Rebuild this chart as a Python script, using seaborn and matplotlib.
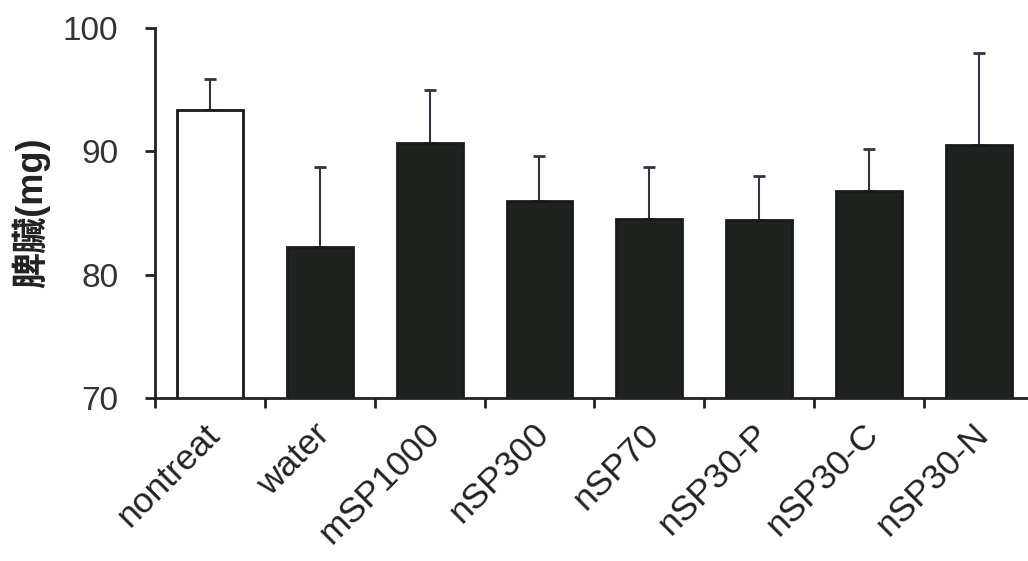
import matplotlib
matplotlib.use("Agg")
import matplotlib.pyplot as plt
import matplotlib.transforms as mtransforms
import seaborn as sns
import numpy as np
import pandas as pd

categories = ["nontreat", "water", "mSP1000", "nSP300", "nSP70", "nSP30-P", "nSP30-C", "nSP30-N"]
values = [93.35, 82.2, 90.65, 86.0, 84.5, 84.45, 86.8, 90.55]
err_up = [2.55, 6.5, 4.3, 3.65, 4.25, 3.55, 3.4, 7.45]
y_ticks = [70, 80, 90, 100]
ylabel = "脾臟(mg)"

sns.set_theme(style="ticks")
plt.rcParams['font.family'] = ['Liberation Sans', 'Noto Sans CJK TC', 'DejaVu Sans']

fig = plt.figure(figsize=(10.28, 5.61), dpi=100)
ax = fig.add_axes([0.151, 0.291, 0.848, 0.659])

df = pd.DataFrame({"cat": categories, "val": values})
colors = ["white"] + ["#1e2420"] * (len(categories) - 1)
sns.barplot(data=df, x="cat", y="val", hue="cat", palette=colors, legend=False,
            width=0.6, edgecolor="#1a1a1a", linewidth=2, ax=ax, errorbar=None)

x = np.arange(len(categories))
ax.errorbar(x, values, yerr=[np.zeros(len(values)), err_up], fmt="none",
            ecolor="#333344", elinewidth=1.5, capsize=4, capthick=2, zorder=0)

ax.set_ylim(70, 100)
ax.set_xlim(-0.5, len(categories) - 1 + 0.44)
ax.set_yticks(y_ticks)
ax.set_yticklabels([str(t) for t in y_ticks], fontsize=24, color="#333333")
ax.tick_params(axis="y", length=7.5, width=2, color="#222222", pad=19)

ax.set_xticks(x)
ax.set_xticklabels(categories, rotation=45, ha="right", rotation_mode="anchor",
                   fontsize=25.5, color="#222222")
ax.tick_params(axis="x", which="major", length=0, pad=14)
offset = mtransforms.ScaledTranslation(-5 / 72, 0, fig.dpi_scale_trans)
for lbl in ax.get_xticklabels():
    lbl.set_transform(lbl.get_transform() + offset)
ax.set_xticks(np.arange(-0.5, len(categories) - 0.5, 1), minor=True)
ax.tick_params(axis="x", which="minor", length=7.5, width=2, color="#222222")

ax.set_xlabel("")
ax.set_ylabel(ylabel, fontsize=26, fontweight="bold", color="#222222",
              family=['Liberation Sans', 'Noto Sans CJK TC', 'DejaVu Sans'])
ax.yaxis.set_label_coords(-0.12, 0.5)

for s in ["top", "right"]:
    ax.spines[s].set_visible(False)
for s in ["left", "bottom"]:
    ax.spines[s].set_linewidth(2)
    ax.spines[s].set_color("#222222")

fig.savefig("out.png", dpi=100, facecolor="white")
